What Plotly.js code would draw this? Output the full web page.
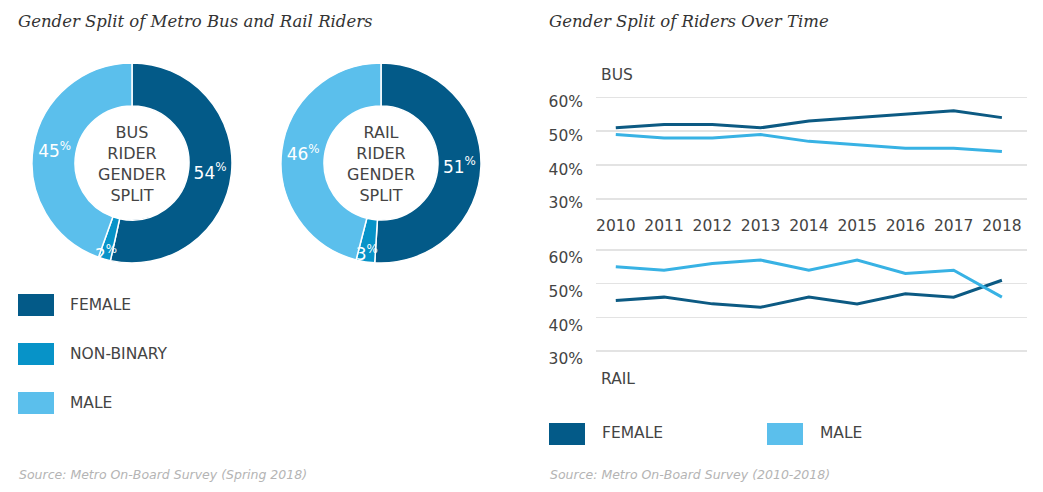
<!DOCTYPE html>
<html><head><meta charset="utf-8">
<script src="https://cdn.plot.ly/plotly-3.0.1.min.js"></script>
<style>html,body{margin:0;padding:0;background:#fff;} #chart{width:1043px;height:492px;}</style>
</head><body><div id="chart"></div>
<script>
// ---- data ----
const genders = ['FEMALE', 'NON-BINARY', 'MALE'];
const busSplit = [54, 2, 45];
const railSplit = [51, 3, 46];
const years = ['2010','2011','2012','2013','2014','2015','2016','2017','2018'];
const busFemale = [51, 52, 52, 51, 53, 54, 55, 56, 54];
const busMale   = [49, 48, 48, 49, 47, 46, 45, 45, 44];
const railFemale = [45, 46, 44, 43, 46, 44, 47, 46, 51];
const railMale   = [55, 54, 56, 57, 54, 57, 53, 54, 46];
const yTicks = [30, 40, 50, 60];
const lineLegend = ['FEMALE', 'MALE'];

// ---- style ----
const W = 1043, H = 492;
const px = x => x / W;
const py = y => 1 - y / H;
const C_F = '#035a88', C_N = '#0793c8', C_M = '#5bbfec';
const L_F = '#0c5a83', L_M = '#38b2e4';
const SANS = 'DejaVu Sans, sans-serif';
const SERIF = 'DejaVu Serif, serif';
const TXT = '#444444';

function donutBase(values, title, x0, y0, size) {
  return {
    type: 'pie', values: values, labels: genders, sort: false, direction: 'clockwise',
    rotation: 0, hole: 0.57, showlegend: false,
    domain: {x: [px(x0), px(x0 + size)], y: [py(y0 + size), py(y0)]},
    marker: {colors: [C_F, C_N, C_M], line: {color: '#ffffff', width: 1.5}},
    textinfo: 'none',
    title: {text: title, position: 'middle center', font: {family: SANS, size: 16, color: TXT}},
    hoverinfo: 'label+value'
  };
}
// transparent overlay carrying the percentage labels so they sit above every slice
function donutLabels(values, x0, y0, size) {
  return {
    type: 'pie', values: values, labels: genders, sort: false, direction: 'clockwise',
    rotation: 0, hole: 0.57, showlegend: false,
    domain: {x: [px(x0), px(x0 + size)], y: [py(y0 + size), py(y0)]},
    marker: {colors: ['rgba(0,0,0,0)', 'rgba(0,0,0,0)', 'rgba(0,0,0,0)'], line: {width: 0}},
    texttemplate: '%{value}<sup>%</sup>', textinfo: 'text', textposition: 'inside',
    insidetextorientation: 'horizontal',
    textfont: {family: SANS, size: 17, color: '#ffffff'},
    hoverinfo: 'skip'
  };
}

const traces = [
  donutBase(busSplit, 'BUS<br>RIDER<br>GENDER<br>SPLIT', 32, 63, 200),
  donutBase(railSplit, 'RAIL<br>RIDER<br>GENDER<br>SPLIT', 281, 63, 200),
  donutLabels(busSplit, 32, 63, 200),
  donutLabels(railSplit, 281, 63, 200),
  {type: 'scatter', mode: 'lines', x: years, y: busFemale, xaxis: 'x', yaxis: 'y', name: 'FEMALE',
   line: {color: L_F, width: 3}, showlegend: false},
  {type: 'scatter', mode: 'lines', x: years, y: busMale, xaxis: 'x', yaxis: 'y', name: 'MALE',
   line: {color: L_M, width: 3}, showlegend: false},
  {type: 'scatter', mode: 'lines', x: years, y: railFemale, xaxis: 'x2', yaxis: 'y2', name: 'FEMALE',
   line: {color: L_F, width: 3}, showlegend: false},
  {type: 'scatter', mode: 'lines', x: years, y: railMale, xaxis: 'x2', yaxis: 'y2', name: 'MALE',
   line: {color: L_M, width: 3}, showlegend: false}
];

const xRange = [-0.41, 8.52];
const axFont = {family: SANS, size: 15.5, color: TXT};
function yAxis(top, bottom, anchor, shift) {
  return {domain: [py(bottom), py(top)], range: [29, 61], tickvals: yTicks, ticktext: yTicks.map(v => v + '%'),
    showgrid: true, gridcolor: '#e3e3e3', gridwidth: 1.5, zeroline: false, showline: false,
    ticks: '', tickfont: axFont, ticklabelstandoff: 12, ticklabelshift: shift, anchor: anchor, fixedrange: true};
}

const annotations = [];
function ann(text, x, y, font, xanchor) {
  annotations.push({text: text, x: px(x), y: py(y), xref: 'paper', yref: 'paper',
    xanchor: xanchor || 'left', yanchor: 'middle', showarrow: false, font: font});
}
const titleFont = {family: SERIF, size: 16.5, color: '#333333', style: 'italic'};
const srcFont = {family: SANS, size: 12.5, color: '#b4b4b4', style: 'italic'};
const legFont = {family: SANS, size: 15.5, color: TXT};
ann('Gender Split of Metro Bus and Rail Riders', 16, 21, titleFont);
ann('Gender Split of Riders Over Time', 547, 21, titleFont);
ann('Source: Metro On-Board Survey (Spring 2018)', 17, 474, srcFont);
ann('Source: Metro On-Board Survey (2010-2018)', 548, 474, srcFont);
ann('BUS', 599, 75, axFont);
ann('RAIL', 599, 379, axFont);

const shapes = [];
function box(x0, y0, x1, y1, color) {
  shapes.push({type: 'rect', xref: 'paper', yref: 'paper', x0: px(x0), x1: px(x1), y0: py(y1), y1: py(y0),
    fillcolor: color, line: {width: 0}});
}
const pieColors = [C_F, C_N, C_M];
genders.forEach((g, i) => {
  const top = 294 + i * 49;
  box(18, top, 54, top + 22, pieColors[i]);
  ann(g, 68, top + 11, legFont);
});
const lineColors = [C_F, C_M];
const lineLegX = [549, 767];
lineLegend.forEach((g, i) => {
  box(lineLegX[i], 423, lineLegX[i] + 36, 445, lineColors[i]);
  ann(g, lineLegX[i] + 51, 433, legFont);
});

const layout = {
  width: W, height: H, margin: {l: 0, r: 0, t: 0, b: 0},
  paper_bgcolor: '#ffffff', plot_bgcolor: '#ffffff', showlegend: false,
  uniformtext: {minsize: 16, mode: 'show'},
  xaxis: {domain: [px(596), px(1027)], type: 'category', range: xRange, showgrid: false, zeroline: false,
    showline: false, ticks: '', tickfont: axFont, ticklabelstandoff: 12, anchor: 'y', fixedrange: true},
  yaxis: yAxis(93.9, 202.4, 'x', 4),
  xaxis2: {domain: [px(596), px(1027)], type: 'category', range: xRange, showgrid: false, zeroline: false,
    showline: false, showticklabels: false, ticks: '', anchor: 'y2', fixedrange: true},
  yaxis2: yAxis(246.6, 354.4, 'x2', 8),
  annotations: annotations, shapes: shapes
};

Plotly.newPlot('chart', traces, layout, {displayModeBar: false, staticPlot: true});
</script>
</body></html>
